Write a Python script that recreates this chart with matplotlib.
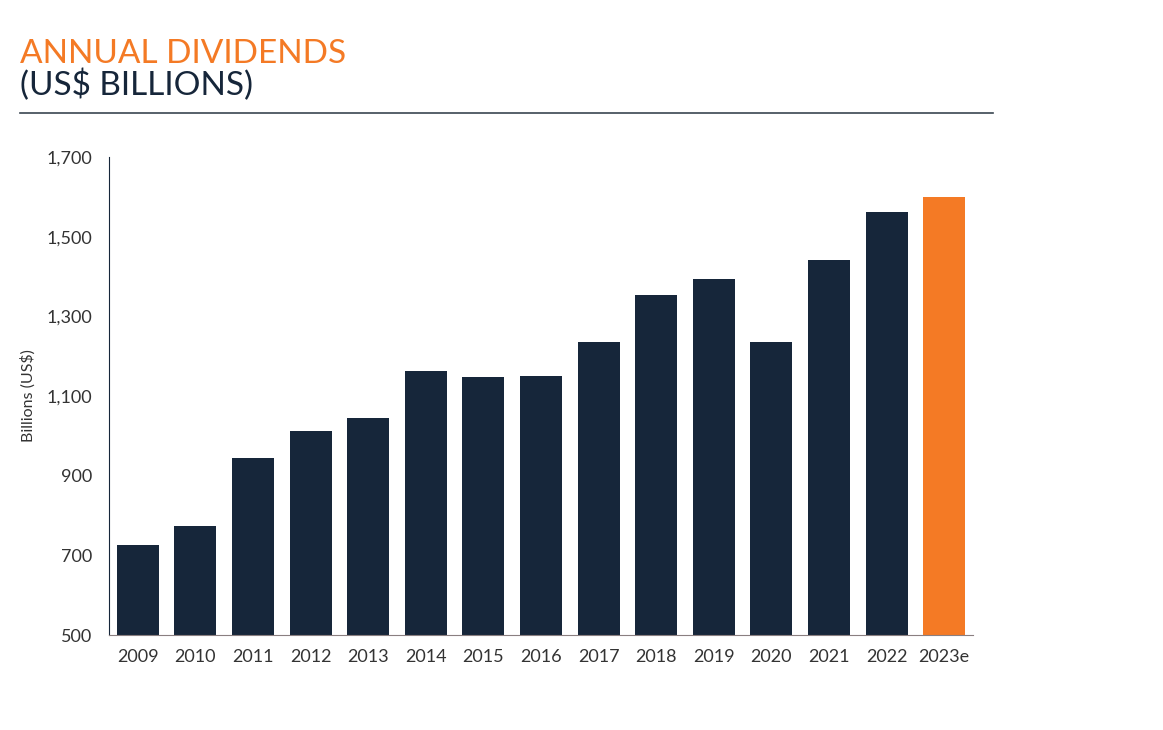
import matplotlib.pyplot as plt
from matplotlib.lines import Line2D

years = ['2009', '2010', '2011', '2012', '2013', '2014', '2015', '2016',
         '2017', '2018', '2019', '2020', '2021', '2022', '2023e']
dividends = [726, 774, 944, 1012, 1045, 1163, 1148, 1150,
             1235, 1353, 1394, 1235, 1441, 1562, 1599]
navy = '#16263a'
orange = '#f47a25'
colors = [navy] * 14 + [orange]

plt.rcParams['font.family'] = ['Lato', 'DejaVu Sans']

fig = plt.figure(figsize=(11.63, 7.30), dpi=100)
ax = fig.add_axes([0.0937, 0.1301, 0.7429, 0.6548])

x = range(len(years))
ax.bar(x, dividends, width=0.73, color=colors, zorder=2)
ax.set_xlim(-0.5, 14.5)
ax.set_ylim(500, 1700)
ax.set_yticks(range(500, 1701, 200))
ax.set_yticklabels(['{:,}'.format(v) for v in range(500, 1701, 200)])
ax.set_xticks(list(x))
ax.set_xticklabels(years)
ax.tick_params(length=0, labelsize=13, colors='#333333', pad=10)
ax.tick_params(axis='y', pad=12)
ax.set_ylabel('Billions (US$)', fontsize=11.5, color='#333333', labelpad=8)

for s in ['top', 'right']:
    ax.spines[s].set_visible(False)
ax.spines['left'].set_color(navy)
ax.spines['bottom'].set_color('#8a7f80')

# title block
fig.text(0.017, 0.905, 'ANNUAL DIVIDENDS', fontsize=24, color=orange, va='bottom')
fig.text(0.017, 0.862, '(US$ BILLIONS)', fontsize=24, color=navy, va='bottom')
fig.add_artist(Line2D([0.017, 0.854], [0.845, 0.845], color='#3a4550', lw=1.2))

fig.savefig('out.png', dpi=100)
